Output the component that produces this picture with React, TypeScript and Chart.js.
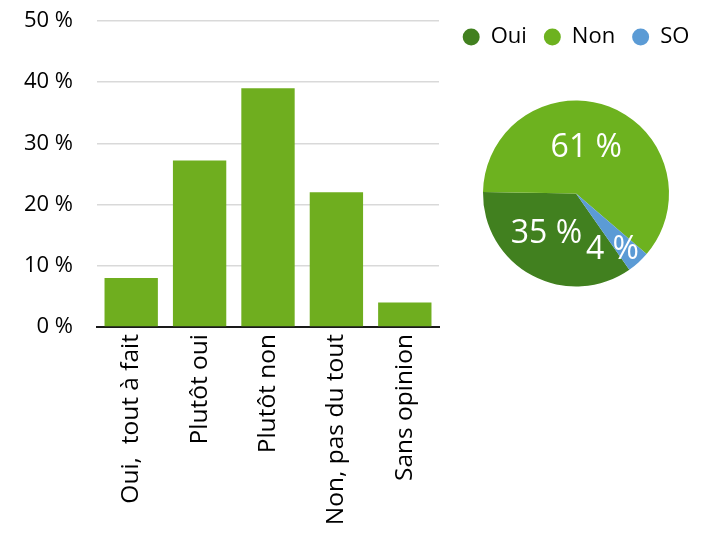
import React, { useEffect, useRef } from "react";
import { Chart, registerables } from "chart.js";

Chart.register(...registerables);

const categories = ["Oui,  tout à fait", "Plutôt oui", "Plutôt non", "Non, pas du tout", "Sans opinion"];
const barValues = [8, 27.2, 39, 22, 4];
const yTicks = [0, 10, 20, 30, 40, 50];

const pieLabels = ["Oui", "Non", "SO"];
const pieValues = [35, 61, 4];
const pieColors = ["#41801f", "#6db21f", "#5b9bd5"];

const FONT = "'Open Sans', 'Noto Sans', sans-serif";

const pieLabelPlugin = {
  id: "pieLabels",
  afterDatasetsDraw(chart: any) {
    const ctx = chart.ctx;
    const meta = chart.getDatasetMeta(0);
    const fr = [0.54, 0.5, 0.72];
    const da = [0.14, -0.14, 0.16];
    ctx.save();
    ctx.fillStyle = "#ffffff";
    ctx.font = `32px ${FONT}`;
    ctx.textAlign = "center";
    ctx.textBaseline = "middle";
    meta.data.forEach((arc: any, i: number) => {
      const p = arc.getProps(["startAngle", "endAngle", "x", "y", "outerRadius"], true);
      const mid = (p.startAngle + p.endAngle) / 2 + da[i];
      const r = p.outerRadius * fr[i];
      ctx.fillText(`${pieValues[i]} %`, p.x + Math.cos(mid) * r, p.y + Math.sin(mid) * r);
    });
    ctx.restore();
  },
};

export default function App() {
  const barRef = useRef<HTMLCanvasElement>(null);
  const pieRef = useRef<HTMLCanvasElement>(null);

  useEffect(() => {
    const bar = new Chart(barRef.current!, {
      type: "bar",
      data: {
        labels: categories,
        datasets: [
          {
            data: barValues,
            backgroundColor: "#6fae1f",
            barPercentage: 0.78,
            categoryPercentage: 1,
          },
        ],
      },
      options: {
        animation: false,
        responsive: false,
        maintainAspectRatio: false,
        layout: { padding: { top: 21, right: 11, left: 0, bottom: 0 } },
        plugins: { legend: { display: false }, tooltip: { enabled: false } },
        scales: {
          x: {
            grid: { display: true, color: "transparent", drawTicks: false },
            border: { display: true, color: "#1a1a1a", width: 2 },
            ticks: {
              color: "#000",
              font: { family: FONT, size: 24.5 },
              minRotation: 90,
              maxRotation: 90,
              padding: 7,
              autoSkip: false,
            },
            afterFit: (s: any) => {
              s.height = 540 - 327;
              s.paddingLeft = 0;
              s.paddingRight = 0;
            },
          },
          y: {
            min: 0,
            max: 50,
            afterBuildTicks: (s: any) => {
              s.ticks = yTicks.map((v) => ({ value: v }));
            },
            grid: {
              drawTicks: false,
              color: (c: any) => (c.tick && c.tick.value === 0 ? "transparent" : "#d9d9d9"),
              lineWidth: 1.5,
            },
            border: { display: false },
            ticks: {
              color: "#000",
              font: { family: FONT, size: 22 },
              padding: 24,
              callback: (v: any) => `${v} %`,
            },
            afterFit: (s: any) => {
              s.width = 97;
              s.paddingTop = 0;
              s.paddingBottom = 0;
            },
          },
        },
      },
    });

    const pie = new Chart(pieRef.current!, {
      type: "pie",
      data: {
        labels: pieLabels,
        datasets: [
          {
            data: pieValues,
            backgroundColor: pieColors,
            borderWidth: 0,
            radius: 93,
          },
        ],
      },
      options: {
        animation: false,
        responsive: false,
        maintainAspectRatio: false,
        rotation: 145,
        layout: { padding: { top: 9, bottom: 0, left: 0, right: 0 } },
        plugins: {
          tooltip: { enabled: false },
          legend: {
            position: "top",
            labels: {
              color: "#000",
              font: { family: FONT, size: 22 },
              usePointStyle: true,
              pointStyle: "circle",
              boxHeight: 12,
              boxWidth: 17,
              pointStyleWidth: 17,
              padding: 17,
            },
          },
        },
      },
      plugins: [pieLabelPlugin],
    });

    return () => {
      bar.destroy();
      pie.destroy();
    };
  }, []);

  return (
    <div style={{ position: "absolute", left: 0, top: 0, width: 711, height: 540, background: "#fff" }}>
      <canvas ref={barRef} width={450} height={540} style={{ position: "absolute", left: 0, top: 0, width: 450, height: 540 }} />
      <canvas ref={pieRef} width={278} height={329} style={{ position: "absolute", left: 437, top: 0, width: 278, height: 329 }} />
    </div>
  );
}
